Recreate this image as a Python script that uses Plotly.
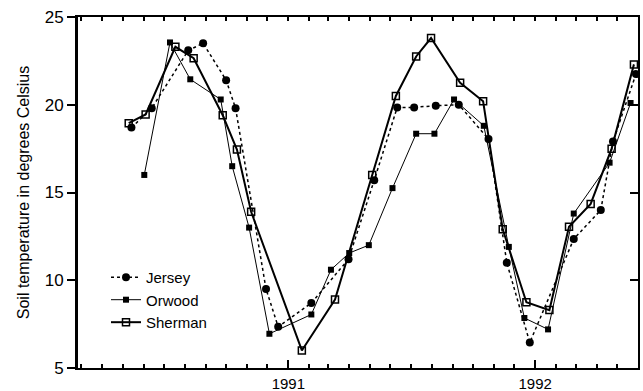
import plotly.graph_objects as go

# ---- data ----
jersey_dates = ["1990-05-14", "1990-06-13", "1990-08-06", "1990-08-28", "1990-10-01",
                "1990-10-15", "1990-11-29", "1990-12-17", "1991-02-04", "1991-03-31",
                "1991-05-08", "1991-06-11", "1991-07-06", "1991-08-07", "1991-09-10",
                "1991-10-24", "1991-11-20", "1991-12-24", "1992-02-27", "1992-04-07",
                "1992-04-25", "1992-05-29"]
jersey_temp = [18.7, 19.8, 23.1, 23.5, 21.4, 19.8, 9.5, 7.35, 8.7, 11.2,
               15.7, 19.85, 19.85, 19.95, 20.0, 18.05, 11.0, 6.45, 12.35, 14.0,
               17.9, 21.75]

orwood_dates = ["1990-06-02", "1990-07-10", "1990-08-09", "1990-09-23", "1990-10-10",
                "1990-11-04", "1990-12-04", "1991-02-04", "1991-03-05", "1991-04-01",
                "1991-04-30", "1991-06-04", "1991-07-09", "1991-08-05", "1991-09-03",
                "1991-10-17", "1991-11-23", "1991-12-16", "1992-01-20", "1992-02-27",
                "1992-04-20", "1992-05-21"]
orwood_temp = [16.0, 23.55, 21.45, 20.3, 16.5, 13.0, 6.95, 8.05, 10.6, 11.55,
               12.0, 15.25, 18.35, 18.35, 20.3, 18.8, 11.9, 7.85, 7.2, 13.8,
               16.7, 20.1]

sherman_dates = ["1990-05-10", "1990-06-04", "1990-07-18", "1990-08-14", "1990-09-26",
                 "1990-10-17", "1990-11-07", "1991-01-21", "1991-03-11", "1991-05-05",
                 "1991-06-09", "1991-07-09", "1991-07-31", "1991-09-12", "1991-10-16",
                 "1991-11-14", "1991-12-19", "1992-01-22", "1992-02-20", "1992-03-23",
                 "1992-04-23", "1992-05-26"]
sherman_temp = [18.95, 19.45, 23.3, 22.65, 19.4, 17.45, 13.9, 6.0, 8.9, 16.0,
                20.5, 22.75, 23.8, 21.25, 20.2, 12.9, 8.75, 8.3, 13.05, 14.35,
                17.5, 22.3]

x_range = ["1990-02-24", "1992-06-01"]
y_range = [5, 25]
year_ticks = ["1991-01-01", "1992-01-01"]
year_labels = ["1991", "1992"]

FONT = "Liberation Sans, Arial, sans-serif"

fig = go.Figure()
fig.add_trace(go.Scatter(
    x=jersey_dates, y=jersey_temp, name="Jersey", mode="lines+markers",
    line=dict(color="black", width=1.5, dash="dot"),
    marker=dict(symbol="circle", size=8, color="black")))
fig.add_trace(go.Scatter(
    x=orwood_dates, y=orwood_temp, name="Orwood", mode="lines+markers",
    line=dict(color="black", width=1),
    marker=dict(symbol="square", size=6, color="black")))
fig.add_trace(go.Scatter(
    x=sherman_dates, y=sherman_temp, name="Sherman", mode="lines+markers",
    line=dict(color="black", width=2),
    marker=dict(symbol="square-open", size=7, color="black",
                line=dict(width=1.5, color="black")),
))
# invisible trace to carry the mirror axes
fig.add_trace(go.Scatter(x=x_range, y=y_range, xaxis="x2", yaxis="y2",
                         mode="markers", marker=dict(opacity=0),
                         showlegend=False, hoverinfo="skip"))

fig.update_layout(
    width=643, height=391,
    margin=dict(l=78, r=5, t=17, b=23),
    paper_bgcolor="white", plot_bgcolor="white",
    font=dict(family=FONT, color="black"),
    showlegend=True,
    legend=dict(x=0.05, y=0.305, xanchor="left", yanchor="top",
                font=dict(size=15, family=FONT), bgcolor="rgba(0,0,0,0)",
                tracegroupgap=0, itemwidth=30),
    xaxis=dict(type="date", range=x_range, showgrid=False, zeroline=False,
               automargin=False,
               showline=True, linecolor="black", linewidth=2,
               tickmode="array", tickvals=year_ticks, ticktext=year_labels,
               ticks="inside", ticklen=8, tickwidth=1.5, tickcolor="black",
               ticklabelstandoff=1,
               tickfont=dict(size=15, family=FONT),
               minor=dict(dtick="M1", tick0="1990-01-01", ticks="inside",
                          ticklen=4, tickwidth=1.5, tickcolor="black",
                          showgrid=False)),
    xaxis2=dict(type="date", range=x_range, overlaying="x", side="top",
                matches="x", showgrid=False, zeroline=False, showline=True,
                automargin=False,
                linecolor="black", linewidth=2, showticklabels=False,
                dtick="M1", tick0="1990-01-01", ticks="inside", ticklen=4,
                tickwidth=1.5, tickcolor="black"),
    yaxis=dict(range=y_range, dtick=5, showgrid=False, zeroline=False,
               automargin=False,
               showline=True, linecolor="black", linewidth=3,
               ticks="outside", ticklen=8, tickwidth=1.5, tickcolor="black",
               tickfont=dict(size=17, family=FONT),
               title=dict(text="Soil temperature in degrees Celsius",
                          font=dict(size=16, family=FONT), standoff=12)),
    yaxis2=dict(range=y_range, overlaying="y", side="right", matches="y",
                automargin=False,
                dtick=5, showgrid=False, zeroline=False, showline=True,
                linecolor="black", linewidth=2, showticklabels=False,
                ticks="inside", ticklen=8, tickwidth=1.5, tickcolor="black"),
)

fig.write_html("out.html")
